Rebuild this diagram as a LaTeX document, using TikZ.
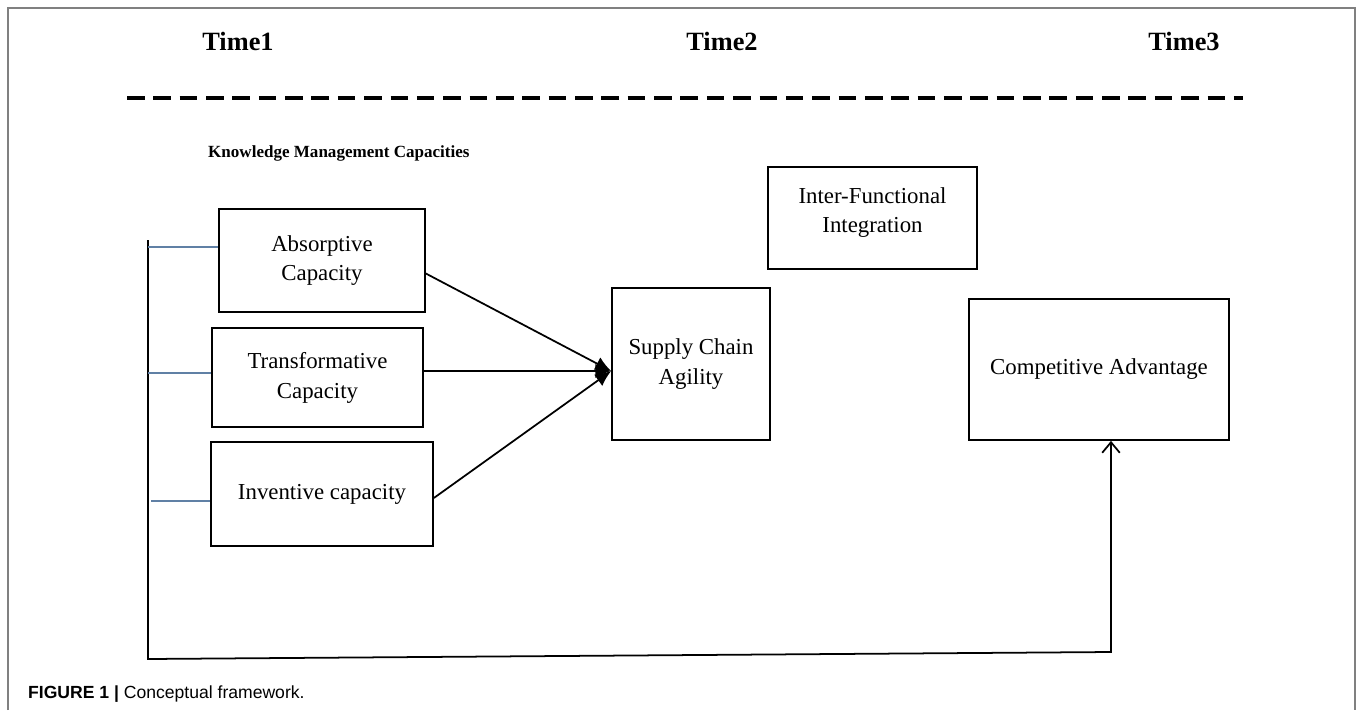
\documentclass[tikz,border=0pt]{standalone}
\usepackage{fontspec}
\setmainfont{Liberation Serif}
\newfontfamily\capfont{Liberation Sans}
\usetikzlibrary{arrows.meta, calc}
\definecolor{linkblue}{RGB}{96,128,165}

\begin{document}
\begin{tikzpicture}[x=0.02cm, y=-0.02cm,
        box/.style={draw, line width=1pt, inner sep=0pt, align=center, font=\fontsize{13}{17}\selectfont},
        timelbl/.style={anchor=base, font=\fontsize{15}{18}\selectfont\bfseries},
        link/.style={linkblue, line width=0.6pt},
        flow/.style={line width=1pt, -{Latex[length=9pt, width=8pt]}}]
        \useasboundingbox (0, 0) rectangle (1358, 710);
        % frame
        \draw[gray, line width=1.1pt] (8, 710) -- (8, 8) -- (1355, 8) -- (1355, 710);
        % time line
        \node[timelbl] (t1) at (238, 50) {Time1};
        \node[timelbl] (t2) at (722, 50) {Time2};
        \node[timelbl] (t3) at (1184, 50) {Time3};
        \coordinate (d1) at (127, 98);
        \coordinate (d2) at (1243, 98);
        \draw[line width=2.2pt, dash pattern=on 10pt off 5pt] (d1) -- (d2);
        \node[anchor=base west, font=\fontsize{9.7}{12}\selectfont\bfseries] (kmc) at (202, 157) {Knowledge Management Capacities};
        % boxes
        \node[box, minimum width=4.12cm, minimum height=2.06cm] (abs) at (322, 260.5) {Absorptive\\Capacity};
        \node[box, minimum width=4.22cm, minimum height=1.98cm] (trans) at (317.5, 377.5) {Transformative\\Capacity};
        \node[box, minimum width=4.44cm, minimum height=2.08cm] (inv) at (322, 494) {Inventive capacity};
        \node[box, minimum width=3.16cm, minimum height=3.04cm] (sca) at (691, 364) {Supply Chain\\Agility};
        \node[box, minimum width=4.18cm, minimum height=2.04cm] (iff) at (872.5, 218) {Inter-Functional\\Integration\\[-8pt]\mbox{}};
        \node[box, minimum width=5.2cm, minimum height=2.82cm] (ca) at (1099, 369.5) {Competitive Advantage};
        % arrows into agility
        \coordinate (tip) at ($(sca.west)+(0, 7)$);
        \draw[flow] ($(abs.east)+(0, 13)$) -- (tip);
        \draw[flow] (trans.east |- tip) -- (tip);
        \draw[flow] ($(inv.east)+(0, 4)$) -- (tip);
        % left bracket and direct path
        \coordinate (lt) at (148, 240);
        \coordinate (lb) at (148, 659);
        \coordinate (rb) at (1111, 652);
        \draw[line width=1pt, -{Straight Barb[length=6pt, width=10pt]}] (lt) -- (lb) -- (rb) -- (rb |- ca.south);
        \coordinate (b1) at (148, 247);
        \coordinate (b2) at (148, 373);
        \coordinate (b3) at (151, 501);
        \draw[link] (b1) -- (b1 -| abs.west);
        \draw[link] (b2) -- (b2 -| trans.west);
        \draw[link] (b3) -- (b3 -| inv.west);
        % caption
        \node[anchor=base west, font=\capfont\fontsize{10}{12}\selectfont] (cap) at (22, 698) {\textbf{FIGURE 1 |} Conceptual framework.};
\end{tikzpicture}
\end{document}
